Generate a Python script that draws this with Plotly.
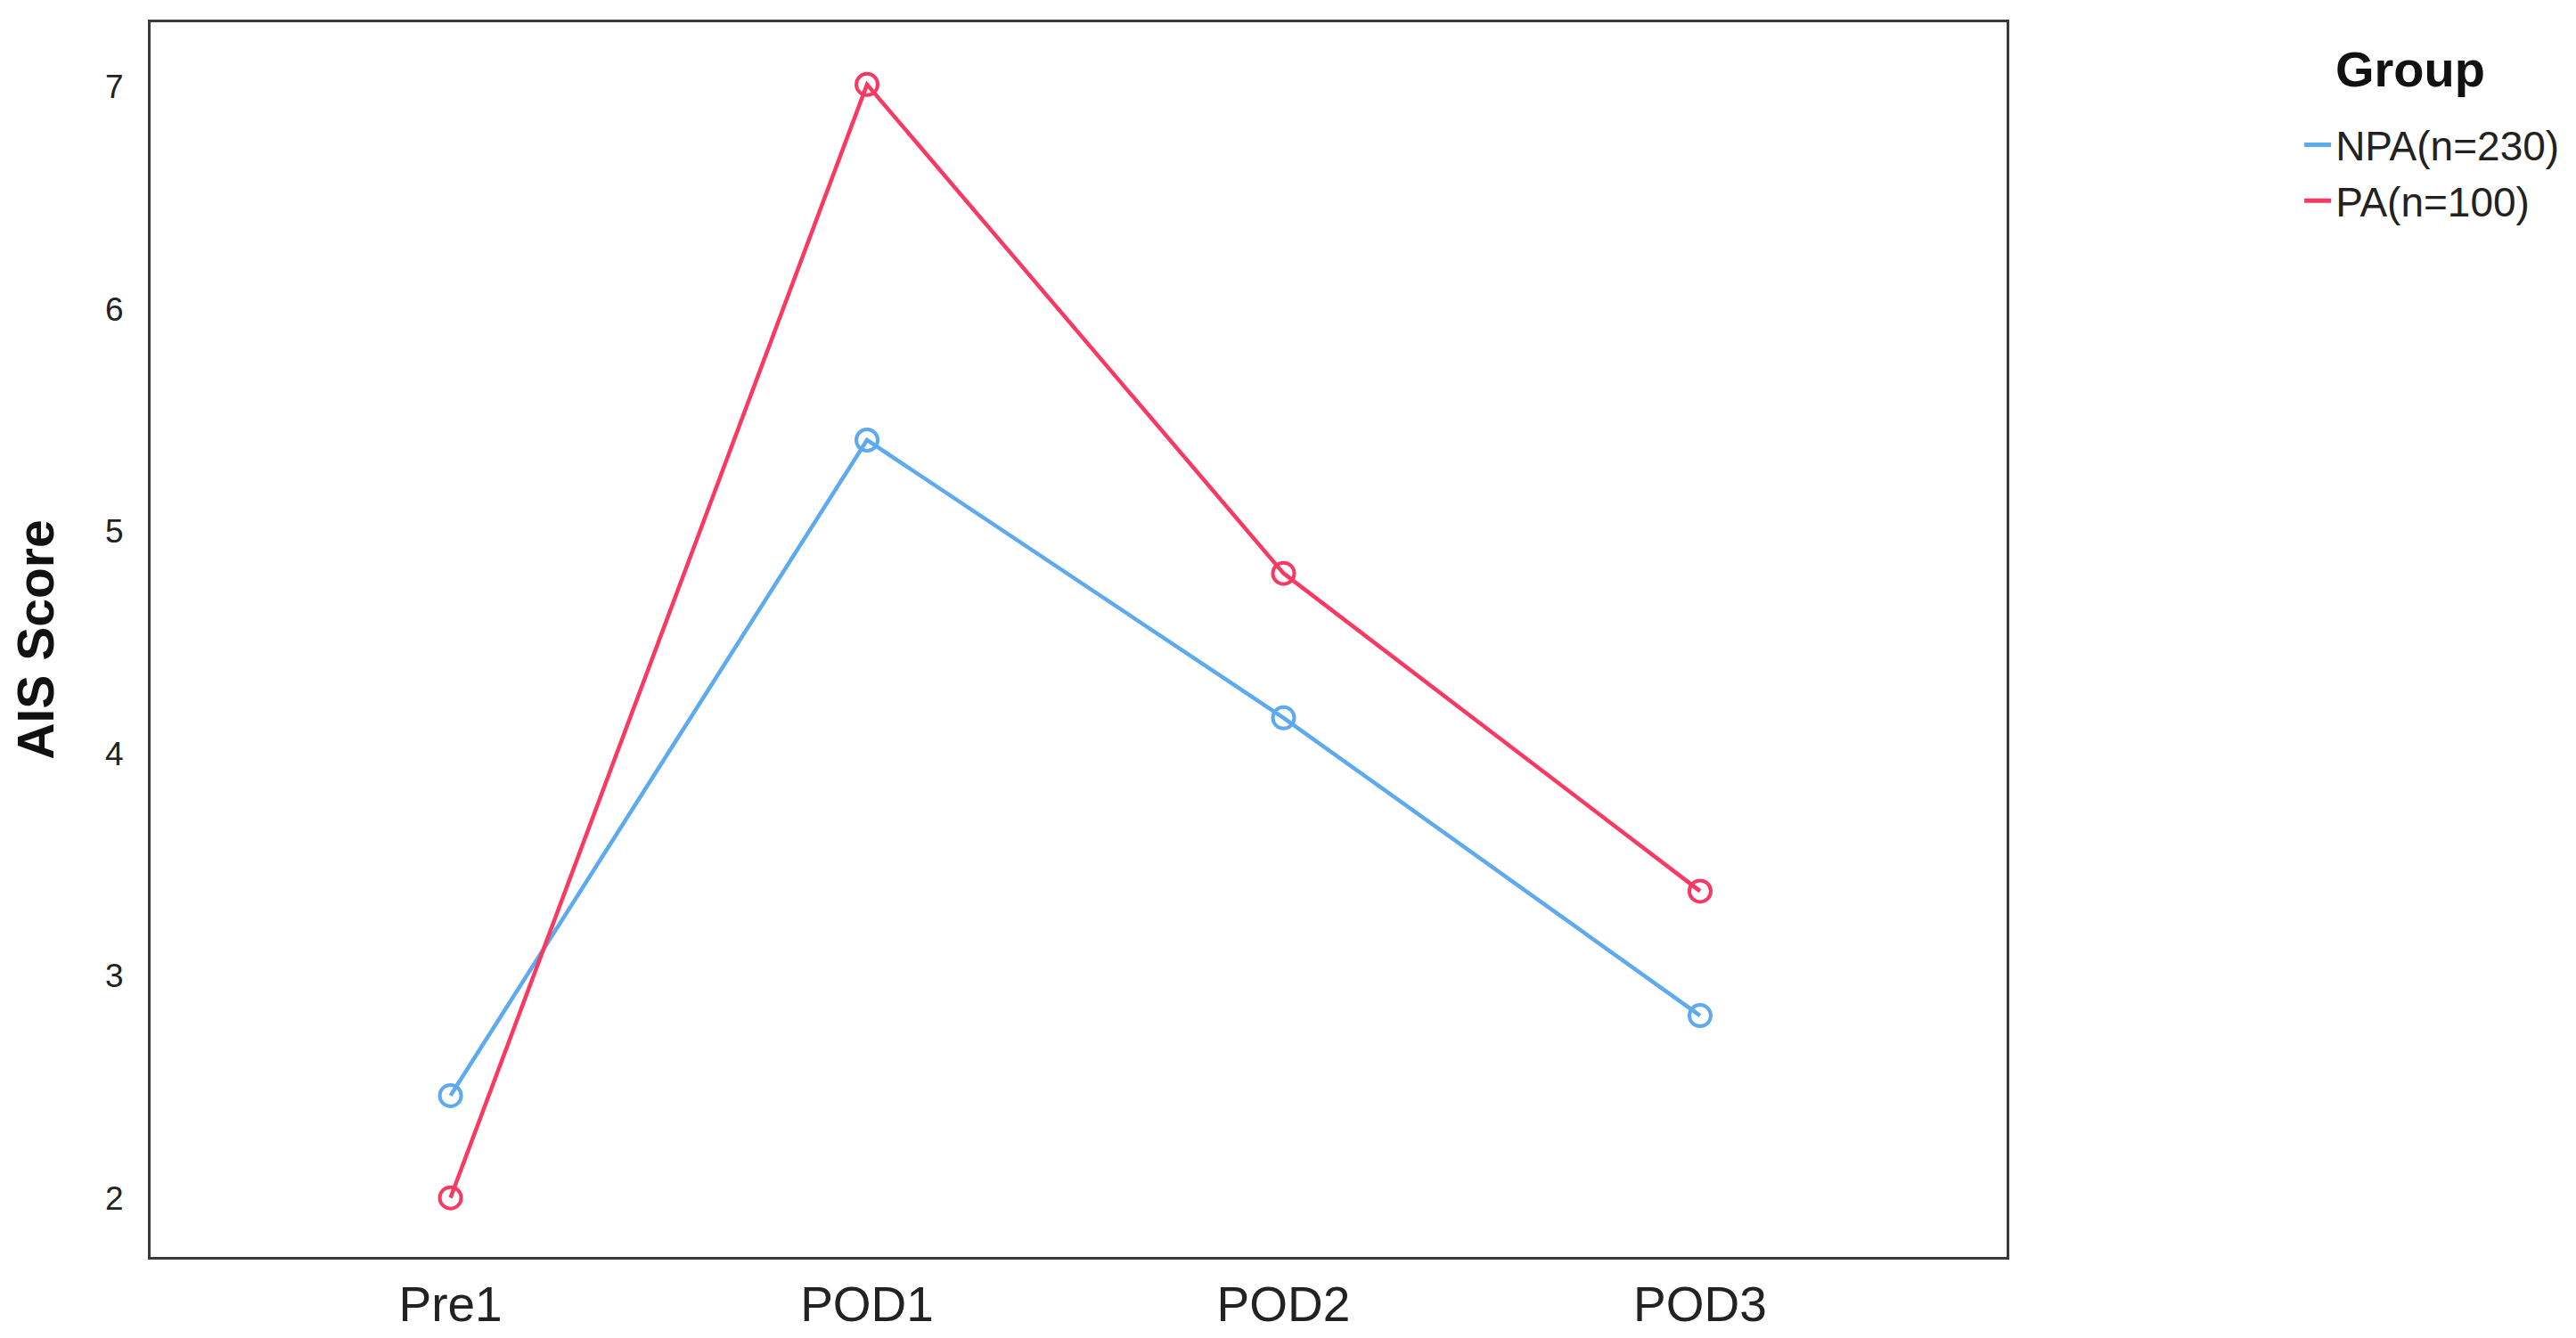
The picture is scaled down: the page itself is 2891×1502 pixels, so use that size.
import plotly.graph_objects as go

categories = ["Pre1", "POD1", "POD2", "POD3"]
npa_values = [2.46, 5.41, 4.16, 2.82]
pa_values = [2.00, 7.01, 4.81, 3.38]
y_ticks = [2, 3, 4, 5, 6, 7]

BLUE = "#5eaaef"
RED = "#fa3963"
FONT = "Liberation Sans, Arial, sans-serif"

# page body has an 8px margin, so the figure is sized/offset accordingly
W, H = 2875, 1486
L, R, T, B = 161, 631, 17, 83

fig = go.Figure()
for name, vals, col in [("NPA(n=230)", npa_values, BLUE), ("PA(n=100)", pa_values, RED)]:
    fig.add_trace(go.Scatter(
        x=categories, y=vals, mode="lines+markers", name=name, legendgroup=name,
        showlegend=False,
        line=dict(color=col, width=4.5),
        marker=dict(symbol="circle-open", size=24, color=col, line=dict(width=4, color=col)),
    ))
    fig.add_trace(go.Scatter(
        x=[None], y=[None], mode="lines", name=name, legendgroup=name,
        line=dict(color=col, width=5),
    ))

fig.update_layout(
    width=W, height=H,
    margin=dict(l=L, r=R, t=T, b=B, autoexpand=False),
    paper_bgcolor="white", plot_bgcolor="white",
    font=dict(family=FONT, color="#222222"),
    showlegend=True,
    legend=dict(
        xref="container", yref="container", x=0.895, y=0.9206,
        xanchor="left", yanchor="top",
        font=dict(size=46, family=FONT, color="#222222"),
        bgcolor="rgba(0,0,0,0)", tracegroupgap=0, itemsizing="constant",
    ),
    xaxis=dict(
        type="category", range=[-0.72, 3.736], automargin=False,
        showline=True, mirror=True, linecolor="#3a3a3a", linewidth=3,
        showgrid=False, zeroline=False, ticks="",
        tickfont=dict(size=55, family=FONT, color="#222222"),
        ticklabelstandoff=3,
    ),
    yaxis=dict(
        range=[1.734, 7.29], tickvals=y_ticks, automargin=False,
        showline=True, mirror=True, linecolor="#3a3a3a", linewidth=3,
        showgrid=False, zeroline=False, ticks="",
        tickfont=dict(size=37, family=FONT, color="#222222"),
        ticklabelstandoff=20,
        title=dict(text="<b>AIS Score</b>", font=dict(size=57, family=FONT, color="#111111"), standoff=42),
    ),
)

pw, ph = W - L - R, H - T - B
fig.add_annotation(
    xref="paper", yref="paper", x=(2611 - L) / pw, y=1 - (69.5 - T) / ph,
    xanchor="left", yanchor="middle", showarrow=False,
    text="<b>Group</b>", font=dict(size=56, family=FONT, color="#111111"),
)

fig.write_html("out.html")
